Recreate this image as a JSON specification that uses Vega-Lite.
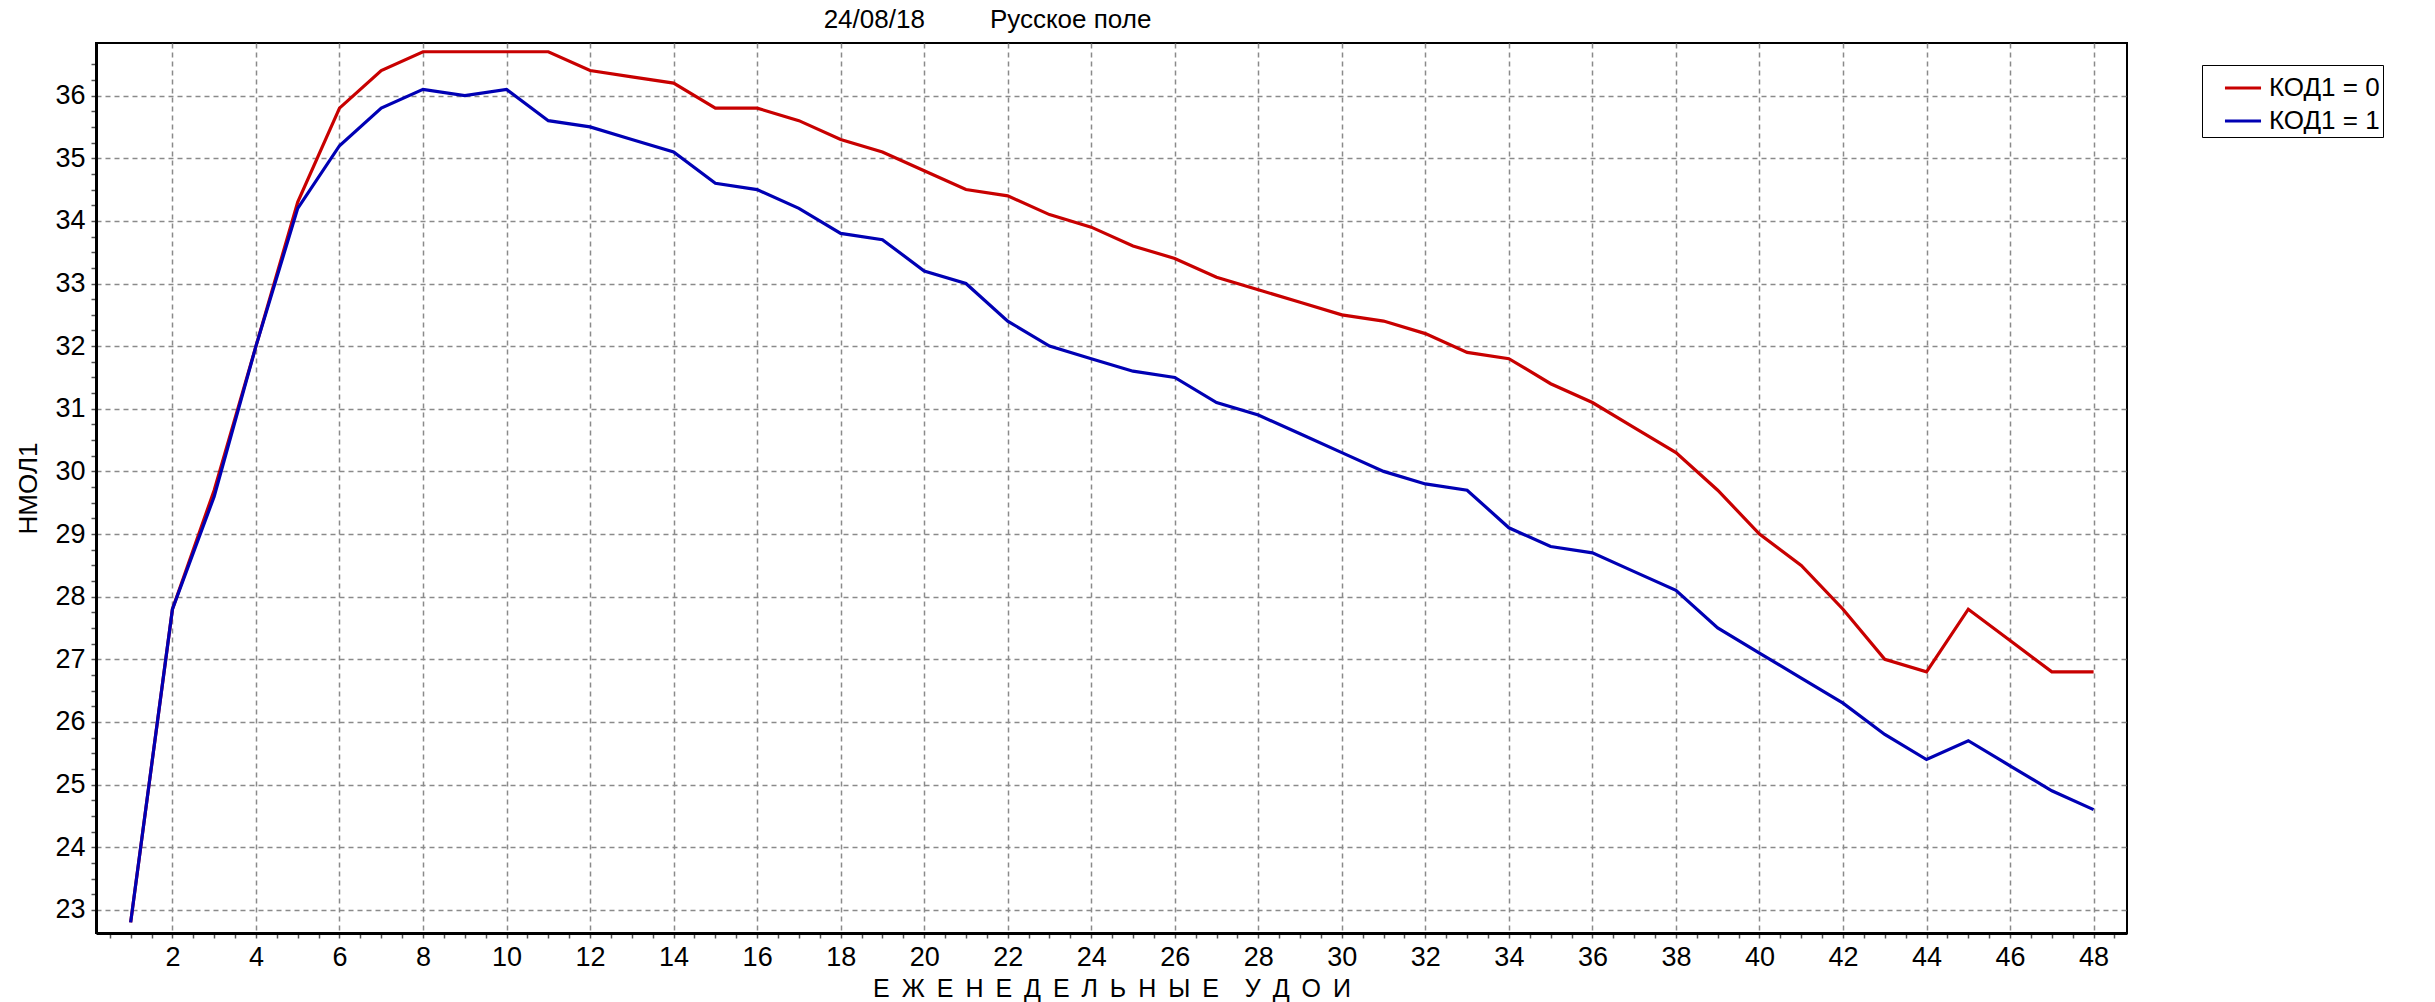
{
  "$schema": "https://vega.github.io/schema/vega-lite/v6.json",
  "autosize": {"type": "none"},
  "padding": {"left": 96, "top": 43, "right": 308, "bottom": 69},
  "width": 2031,
  "height": 890,
  "background": "white",
  "title": {
    "text": "24/08/18\u00a0\u00a0\u00a0\u00a0\u00a0\u00a0\u00a0\u00a0\u00a0Русское поле",
    "anchor": "middle",
    "dx": -124,
    "offset": 10,
    "font": "Liberation Sans",
    "fontSize": 26,
    "fontWeight": "normal",
    "color": "#000"
  },
  "config": {
    "view": {"stroke": "#000", "strokeWidth": 2},
    "axis": {
      "labelFont": "Liberation Sans",
      "titleFont": "Liberation Sans",
      "labelColor": "#000",
      "titleColor": "#000",
      "labelFontSize": 27,
      "titleFontSize": 26,
      "titleFontWeight": "normal",
      "domainColor": "#000",
      "domainWidth": 3,
      "tickColor": "#555",
      "tickSize": 5,
      "tickWidth": 1.5,
      "grid": true,
      "gridColor": "#8a8a8a",
      "gridDash": [5, 4],
      "gridWidth": 1.5
    }
  },
  "data": {
    "values": [
      {"week": 1, "code": "КОД1 = 0", "value": 22.8},
      {"week": 2, "code": "КОД1 = 0", "value": 27.8},
      {"week": 3, "code": "КОД1 = 0", "value": 29.7},
      {"week": 4, "code": "КОД1 = 0", "value": 32.0},
      {"week": 5, "code": "КОД1 = 0", "value": 34.3},
      {"week": 6, "code": "КОД1 = 0", "value": 35.8},
      {"week": 7, "code": "КОД1 = 0", "value": 36.4},
      {"week": 8, "code": "КОД1 = 0", "value": 36.7},
      {"week": 9, "code": "КОД1 = 0", "value": 36.7},
      {"week": 10, "code": "КОД1 = 0", "value": 36.7},
      {"week": 11, "code": "КОД1 = 0", "value": 36.7},
      {"week": 12, "code": "КОД1 = 0", "value": 36.4},
      {"week": 13, "code": "КОД1 = 0", "value": 36.3},
      {"week": 14, "code": "КОД1 = 0", "value": 36.2},
      {"week": 15, "code": "КОД1 = 0", "value": 35.8},
      {"week": 16, "code": "КОД1 = 0", "value": 35.8},
      {"week": 17, "code": "КОД1 = 0", "value": 35.6},
      {"week": 18, "code": "КОД1 = 0", "value": 35.3},
      {"week": 19, "code": "КОД1 = 0", "value": 35.1},
      {"week": 20, "code": "КОД1 = 0", "value": 34.8},
      {"week": 21, "code": "КОД1 = 0", "value": 34.5},
      {"week": 22, "code": "КОД1 = 0", "value": 34.4},
      {"week": 23, "code": "КОД1 = 0", "value": 34.1},
      {"week": 24, "code": "КОД1 = 0", "value": 33.9},
      {"week": 25, "code": "КОД1 = 0", "value": 33.6},
      {"week": 26, "code": "КОД1 = 0", "value": 33.4},
      {"week": 27, "code": "КОД1 = 0", "value": 33.1},
      {"week": 28, "code": "КОД1 = 0", "value": 32.9},
      {"week": 29, "code": "КОД1 = 0", "value": 32.7},
      {"week": 30, "code": "КОД1 = 0", "value": 32.5},
      {"week": 31, "code": "КОД1 = 0", "value": 32.4},
      {"week": 32, "code": "КОД1 = 0", "value": 32.2},
      {"week": 33, "code": "КОД1 = 0", "value": 31.9},
      {"week": 34, "code": "КОД1 = 0", "value": 31.8},
      {"week": 35, "code": "КОД1 = 0", "value": 31.4},
      {"week": 36, "code": "КОД1 = 0", "value": 31.1},
      {"week": 37, "code": "КОД1 = 0", "value": 30.7},
      {"week": 38, "code": "КОД1 = 0", "value": 30.3},
      {"week": 39, "code": "КОД1 = 0", "value": 29.7},
      {"week": 40, "code": "КОД1 = 0", "value": 29.0},
      {"week": 41, "code": "КОД1 = 0", "value": 28.5},
      {"week": 42, "code": "КОД1 = 0", "value": 27.8},
      {"week": 43, "code": "КОД1 = 0", "value": 27.0},
      {"week": 44, "code": "КОД1 = 0", "value": 26.8},
      {"week": 45, "code": "КОД1 = 0", "value": 27.8},
      {"week": 46, "code": "КОД1 = 0", "value": 27.3},
      {"week": 47, "code": "КОД1 = 0", "value": 26.8},
      {"week": 48, "code": "КОД1 = 0", "value": 26.8},
      {"week": 1, "code": "КОД1 = 1", "value": 22.8},
      {"week": 2, "code": "КОД1 = 1", "value": 27.8},
      {"week": 3, "code": "КОД1 = 1", "value": 29.6},
      {"week": 4, "code": "КОД1 = 1", "value": 32.0},
      {"week": 5, "code": "КОД1 = 1", "value": 34.2},
      {"week": 6, "code": "КОД1 = 1", "value": 35.2},
      {"week": 7, "code": "КОД1 = 1", "value": 35.8},
      {"week": 8, "code": "КОД1 = 1", "value": 36.1},
      {"week": 9, "code": "КОД1 = 1", "value": 36.0},
      {"week": 10, "code": "КОД1 = 1", "value": 36.1},
      {"week": 11, "code": "КОД1 = 1", "value": 35.6},
      {"week": 12, "code": "КОД1 = 1", "value": 35.5},
      {"week": 13, "code": "КОД1 = 1", "value": 35.3},
      {"week": 14, "code": "КОД1 = 1", "value": 35.1},
      {"week": 15, "code": "КОД1 = 1", "value": 34.6},
      {"week": 16, "code": "КОД1 = 1", "value": 34.5},
      {"week": 17, "code": "КОД1 = 1", "value": 34.2},
      {"week": 18, "code": "КОД1 = 1", "value": 33.8},
      {"week": 19, "code": "КОД1 = 1", "value": 33.7},
      {"week": 20, "code": "КОД1 = 1", "value": 33.2},
      {"week": 21, "code": "КОД1 = 1", "value": 33.0},
      {"week": 22, "code": "КОД1 = 1", "value": 32.4},
      {"week": 23, "code": "КОД1 = 1", "value": 32.0},
      {"week": 24, "code": "КОД1 = 1", "value": 31.8},
      {"week": 25, "code": "КОД1 = 1", "value": 31.6},
      {"week": 26, "code": "КОД1 = 1", "value": 31.5},
      {"week": 27, "code": "КОД1 = 1", "value": 31.1},
      {"week": 28, "code": "КОД1 = 1", "value": 30.9},
      {"week": 29, "code": "КОД1 = 1", "value": 30.6},
      {"week": 30, "code": "КОД1 = 1", "value": 30.3},
      {"week": 31, "code": "КОД1 = 1", "value": 30.0},
      {"week": 32, "code": "КОД1 = 1", "value": 29.8},
      {"week": 33, "code": "КОД1 = 1", "value": 29.7},
      {"week": 34, "code": "КОД1 = 1", "value": 29.1},
      {"week": 35, "code": "КОД1 = 1", "value": 28.8},
      {"week": 36, "code": "КОД1 = 1", "value": 28.7},
      {"week": 37, "code": "КОД1 = 1", "value": 28.4},
      {"week": 38, "code": "КОД1 = 1", "value": 28.1},
      {"week": 39, "code": "КОД1 = 1", "value": 27.5},
      {"week": 40, "code": "КОД1 = 1", "value": 27.1},
      {"week": 41, "code": "КОД1 = 1", "value": 26.7},
      {"week": 42, "code": "КОД1 = 1", "value": 26.3},
      {"week": 43, "code": "КОД1 = 1", "value": 25.8},
      {"week": 44, "code": "КОД1 = 1", "value": 25.4},
      {"week": 45, "code": "КОД1 = 1", "value": 25.7},
      {"week": 46, "code": "КОД1 = 1", "value": 25.3},
      {"week": 47, "code": "КОД1 = 1", "value": 24.9},
      {"week": 48, "code": "КОД1 = 1", "value": 24.6}
    ]
  },
  "mark": {"type": "line", "strokeWidth": 3.2, "interpolate": "linear"},
  "encoding": {
    "x": {
      "field": "week",
      "type": "quantitative",
      "scale": {"domain": [0.17, 48.8], "nice": false, "zero": false},
      "axis": {
        "title": "Е\u00a0\u2009Ж\u00a0\u2009Е\u00a0\u2009Н\u00a0\u2009Е\u00a0\u2009Д\u00a0\u2009Е\u00a0\u2009Л\u00a0\u2009Ь\u00a0\u2009Н\u00a0\u2009Ы\u00a0\u2009Е\u00a0\u00a0\u00a0\u2009У\u00a0\u2009Д\u00a0\u2009О\u00a0\u2009И",
        "titleFontSize": 25,
        "values": [0.5, 1, 1.5, 2, 2.5, 3, 3.5, 4, 4.5, 5, 5.5, 6, 6.5, 7, 7.5, 8, 8.5, 9, 9.5, 10, 10.5, 11, 11.5, 12, 12.5, 13, 13.5, 14, 14.5, 15, 15.5, 16, 16.5, 17, 17.5, 18, 18.5, 19, 19.5, 20, 20.5, 21, 21.5, 22, 22.5, 23, 23.5, 24, 24.5, 25, 25.5, 26, 26.5, 27, 27.5, 28, 28.5, 29, 29.5, 30, 30.5, 31, 31.5, 32, 32.5, 33, 33.5, 34, 34.5, 35, 35.5, 36, 36.5, 37, 37.5, 38, 38.5, 39, 39.5, 40, 40.5, 41, 41.5, 42, 42.5, 43, 43.5, 44, 44.5, 45, 45.5, 46, 46.5, 47, 47.5, 48, 48.5],
        "labelExpr": "datum.value % 2 === 0 ? '' + datum.value : ''",
        "labelOverlap": false,
        "labelFlush": false,
        "gridOpacity": {"condition": {"test": "datum.value % 2 !== 0", "value": 0}, "value": 1},
        "labelPadding": 6,
        "titlePadding": 6
      }
    },
    "y": {
      "field": "value",
      "type": "quantitative",
      "scale": {"domain": [22.63, 36.84], "nice": false, "zero": false},
      "axis": {
        "title": "НМОЛ1",
        "values": [23, 23.25, 23.5, 23.75, 24, 24.25, 24.5, 24.75, 25, 25.25, 25.5, 25.75, 26, 26.25, 26.5, 26.75, 27, 27.25, 27.5, 27.75, 28, 28.25, 28.5, 28.75, 29, 29.25, 29.5, 29.75, 30, 30.25, 30.5, 30.75, 31, 31.25, 31.5, 31.75, 32, 32.25, 32.5, 32.75, 33, 33.25, 33.5, 33.75, 34, 34.25, 34.5, 34.75, 35, 35.25, 35.5, 35.75, 36, 36.25, 36.5],
        "labelExpr": "datum.value % 1 === 0 ? '' + datum.value : ''",
        "labelOverlap": false,
        "labelFlush": false,
        "gridOpacity": {"condition": {"test": "datum.value % 1 !== 0", "value": 0}, "value": 1},
        "labelPadding": 6,
        "titlePadding": 13
      }
    },
    "color": {
      "field": "code",
      "type": "nominal",
      "scale": {"domain": ["КОД1 = 0", "КОД1 = 1"], "range": ["#c80000", "#0000b4"]},
      "legend": {
        "title": null,
        "orient": "none",
        "legendX": 2106,
        "legendY": 22,
        "symbolType": "stroke",
        "symbolSize": 1300,
        "symbolStrokeWidth": 3,
        "symbolOffset": 18,
        "labelFont": "Liberation Sans",
        "labelFontSize": 26,
        "labelColor": "#000",
        "strokeColor": "#000",
        "fillColor": "white",
        "padding": 3,
        "rowPadding": 0,
        "labelOffset": 6
      }
    }
  }
}
